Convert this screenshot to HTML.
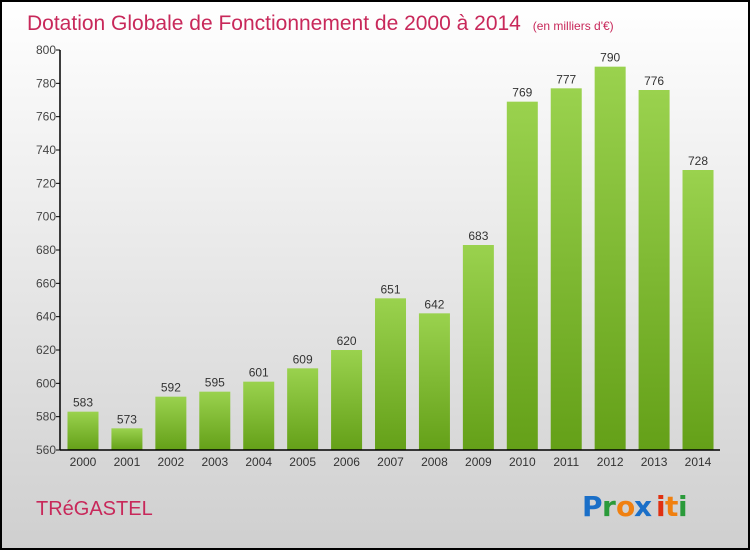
<!DOCTYPE html>
<html><head><meta charset="utf-8"><style>
html,body{margin:0;padding:0;}
body{width:750px;height:550px;overflow:hidden;font-family:"Liberation Sans",sans-serif;}
</style></head><body>
<svg width="750" height="550" xmlns="http://www.w3.org/2000/svg">
<defs>
<linearGradient id="bg" x1="0" y1="0" x2="0" y2="1"><stop offset="0" stop-color="#ffffff"/><stop offset="1" stop-color="#cfcfcf"/></linearGradient>
<linearGradient id="bar" x1="0" y1="0" x2="0" y2="1"><stop offset="0" stop-color="#9ad24e"/><stop offset="1" stop-color="#64a018"/></linearGradient>
</defs>
<rect x="1" y="1" width="748" height="548" fill="url(#bg)" stroke="#000" stroke-width="2"/>
<text x="27" y="30" font-size="21" fill="#c8285a">Dotation Globale de Fonctionnement de 2000 à 2014 <tspan font-size="12" dx="6">(en milliers d'€)</tspan></text>
<g id="yaxis"></g><g id="bars"></g>
<line x1="60" y1="50" x2="60" y2="450" stroke="#000" stroke-width="1.5"/>
<line x1="60" y1="450" x2="720" y2="450" stroke="#000" stroke-width="1.5"/>
<text x="36" y="515" font-size="20" fill="#c8285a">TRéGASTEL</text>
<g font-size="28" font-weight="bold" font-family="'DejaVu Sans',sans-serif">
<text x="582" y="516" fill="#1a6fc8">P</text><text x="602" y="516" fill="#2a9a3a">r</text><text x="616" y="516" fill="#f08010">o</text><text x="634" y="516" fill="#1a6fc8">x</text><text x="656" y="516" fill="#e03010">i</text><text x="665" y="516" fill="#f08010">t</text><text x="678" y="516" fill="#2a9a3a">i</text>
</g>
</svg>
<script>
const years=["2000","2001","2002","2003","2004","2005","2006","2007","2008","2009","2010","2011","2012","2013","2014"];
const values=[583,573,592,595,601,609,620,651,642,683,769,777,790,776,728];
const yTicks=[560,580,600,620,640,660,680,700,720,740,760,780,800];
const NS="http://www.w3.org/2000/svg";
const y=v=>450-(v-560)*400/240;
const x=i=>83+i*43.93;
const ya=document.getElementById('yaxis'),bg=document.getElementById('bars');
function mk(tag,attrs,txt){const e=document.createElementNS(NS,tag);for(const k in attrs)e.setAttribute(k,attrs[k]);if(txt!==undefined)e.textContent=txt;return e;}
yTicks.forEach(t=>{
 const tk=mk('line',{x1:56,x2:60,y1:y(t),y2:y(t),stroke:'#000'});
 
 
 ya.appendChild(tk);
 const l=mk('text',{x:56,y:y(t)+4,'text-anchor':'end','font-size':12,fill:'#444'},t);
 
 
 ya.appendChild(l);
});
values.forEach((v,i)=>{
 const r=mk('rect',{x:x(i)-15.5,y:y(v),width:31,height:450-y(v),fill:'url(#bar)'});
 
 
 bg.appendChild(r);
 const vl=mk('text',{x:x(i),y:y(v)-5,'text-anchor':'middle','font-size':12,fill:'#333'},v);
 
 
 bg.appendChild(vl);
 const xl=mk('text',{x:x(i),y:466,'text-anchor':'middle','font-size':12,fill:'#333'},years[i]);
 
 
 bg.appendChild(xl);
});
</script>
</body></html>
